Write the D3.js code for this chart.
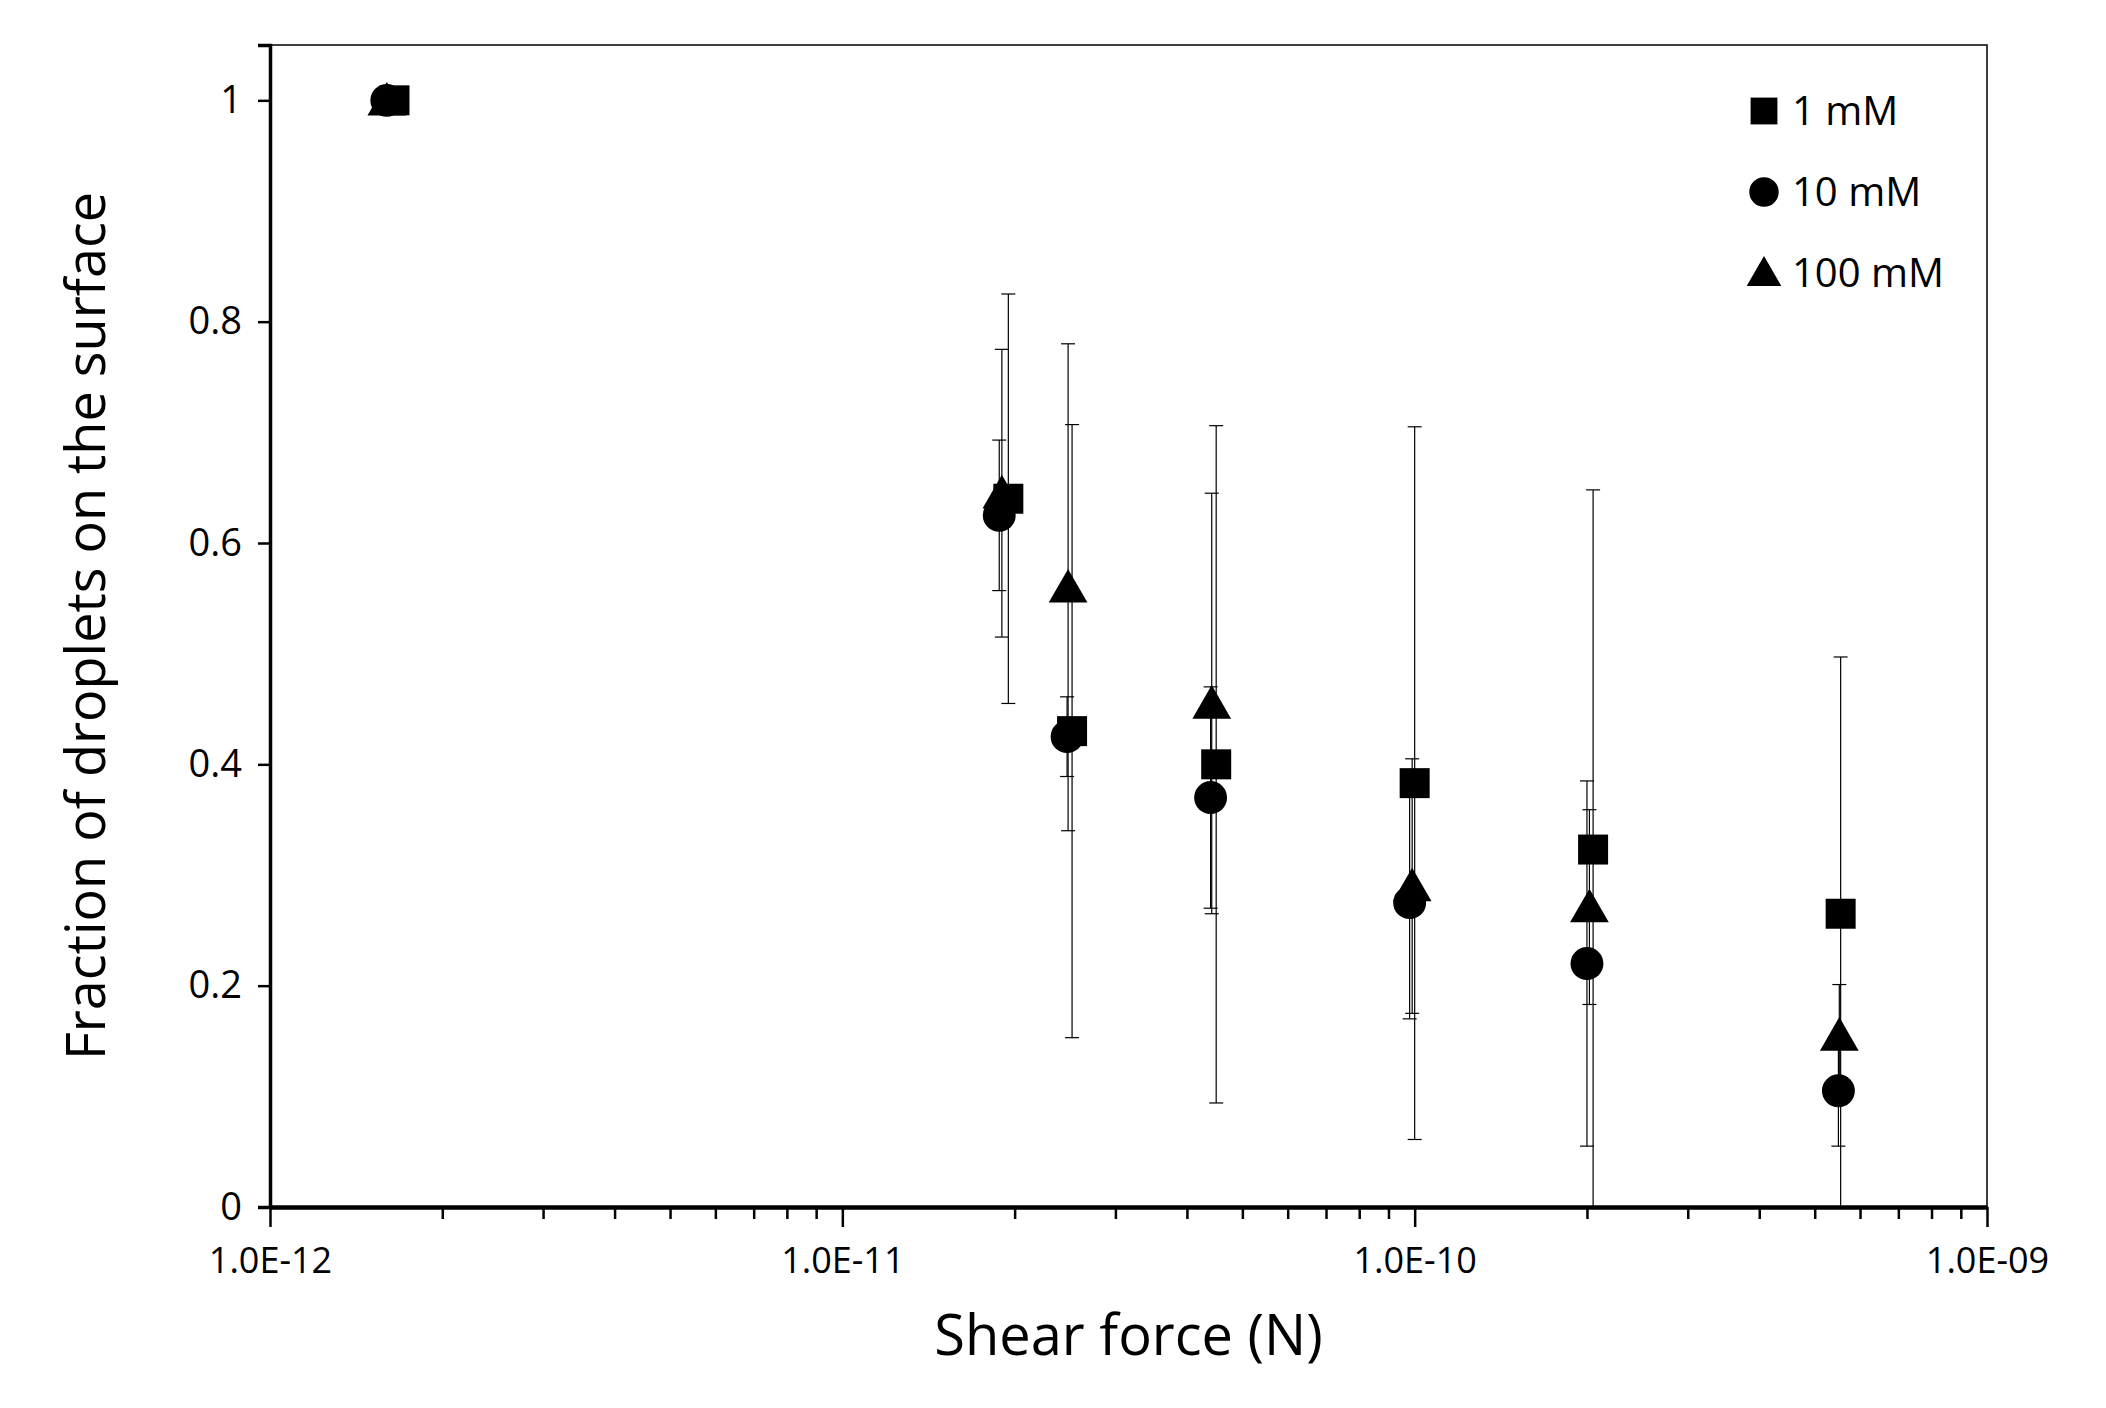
<!DOCTYPE html>
<html><head><meta charset="utf-8">
<script src="https://cdn.jsdelivr.net/npm/d3@7"></script>
<style>body{margin:0;background:#fff}text{font-family:"Open Sans","Noto Sans",sans-serif;fill:#000}</style>
</head><body><svg id="c" width="2106" height="1408"></svg>
<script>
const seriesNames=["1 mM","10 mM","100 mM"];
const xSquare=[1.65e-12,1.95e-11,2.52e-11,4.5e-11,1.0e-10,2.05e-10,5.55e-10];
const ySquare=[1.0,0.64,0.43,0.40,0.383,0.323,0.265];
const eSquare=[0,0.185,0.277,0.306,0.322,0.325,0.232];
const eSquareLo=[0,0.185,0.277,0.306,0.322,0.325,0.265];
const xCircle=[1.6e-12,1.88e-11,2.47e-11,4.4e-11,9.8e-11,2.0e-10,5.5e-10];
const yCircle=[1.0,0.625,0.425,0.37,0.275,0.22,0.105];
const eCircle=[0,0.068,0.036,0.10,0.105,0.165,0.05];
const xTri=[1.6e-12,1.9e-11,2.48e-11,4.42e-11,9.9e-11,2.02e-10,5.52e-10];
const yTri=[1.0,0.645,0.56,0.455,0.29,0.271,0.155];
const eTri=[0,0.13,0.22,0.19,0.115,0.088,0.046];
const yTicks=[0,0.2,0.4,0.6,0.8,1];
const xTicks=[1e-12,1e-11,1e-10,1e-9];

const svg=d3.select("#c");
const L=270,R=1987,T=45,B=1207;
const x=d3.scaleLog().domain([1e-12,1e-9]).range([L,R]);
const y=d3.scaleLinear().domain([0,1.05]).range([B,T]);

svg.append("rect").attr("x",L).attr("y",T).attr("width",R-L).attr("height",B-T).attr("fill","none").attr("stroke","#000").attr("stroke-width",1.5);

const series=[
 {xs:xSquare,ys:ySquare,es:eSquare,lo:eSquareLo,sym:d3.symbolSquare,size:900,name:seriesNames[0]},
 {xs:xCircle,ys:yCircle,es:eCircle,lo:eCircle,sym:d3.symbolCircle,size:850,name:seriesNames[1]},
 {xs:xTri,ys:yTri,es:eTri,lo:eTri,sym:d3.symbolTriangle,size:650,name:seriesNames[2]}];

const eg=svg.append("g").attr("stroke","#000").attr("stroke-width",1.2);
series.forEach(s=>{s.xs.forEach((xv,i)=>{const e=s.es[i],el=s.lo[i];if(!e)return;
  const cx=x(xv),y1=y(Math.max(0,s.ys[i]-el)),y2=y(s.ys[i]+e);
  eg.append("line").attr("x1",cx).attr("x2",cx).attr("y1",y1).attr("y2",y2);
  eg.append("line").attr("x1",cx-7).attr("x2",cx+7).attr("y1",y2).attr("y2",y2);
  if(s.ys[i]-el>0.001) eg.append("line").attr("x1",cx-7).attr("x2",cx+7).attr("y1",y1).attr("y2",y1);
});});
[series[2],series[1],series[0]].forEach(s=>{
 svg.append("g").selectAll("path").data(s.xs).join("path")
  .attr("d",d3.symbol(s.sym,s.size)).attr("fill","#000")
  .attr("transform",(d,i)=>`translate(${x(d)},${y(s.ys[i])+(s.sym===d3.symbolTriangle?4:0)})`);
});

const ya=svg.append("g").attr("transform",`translate(${L},0)`)
 .call(d3.axisLeft(y).tickValues(yTicks).tickFormat(d3.format("")).tickSize(12).tickPadding(16));
ya.select(".domain").attr("stroke-width",3.5);
ya.selectAll(".tick line").attr("stroke-width",2.5);
ya.selectAll("text").style("font-size","38px");
const minor=[];for(let e=-12;e<-9;e++)for(let k=2;k<10;k++)minor.push(k*Math.pow(10,e));
const xm=svg.append("g").attr("transform",`translate(0,${B})`)
 .call(d3.axisBottom(x).tickValues(minor).tickFormat("").tickSize(12).tickSizeOuter(0));
xm.select(".domain").remove();xm.selectAll(".tick line").attr("stroke-width",2.5);
const xa=svg.append("g").attr("transform",`translate(0,${B})`)
 .call(d3.axisBottom(x).tickValues(xTicks).tickFormat(d=>d.toExponential(1).toUpperCase().replace(/E-(\d)$/,"E-0$1")).tickSize(20).tickPadding(20).tickSizeOuter(0));
xa.select(".domain").attr("stroke-width",4.5);
xa.selectAll(".tick line").attr("stroke-width",2.5);
xa.selectAll("text").style("font-size","36px");

svg.append("text").attr("x",(L+R)/2).attr("y",1355).attr("text-anchor","middle").style("font-size","56px").text("Shear force (N)");
svg.append("text").attr("transform",`translate(105,${(T+B)/2}) rotate(-90)`).attr("text-anchor","middle").style("font-size","54px").text("Fraction of droplets on the surface");

series.forEach((s,i)=>{const ly=111+i*81;
 svg.append("path").attr("d",d3.symbol(s.sym,s.size*0.8)).attr("fill","#000").attr("transform",`translate(1764,${ly+(i==2?3:0)})`);
 svg.append("text").attr("x",1792).attr("y",ly+14).style("font-size","40px").text(s.name);
});
</script></body></html>
